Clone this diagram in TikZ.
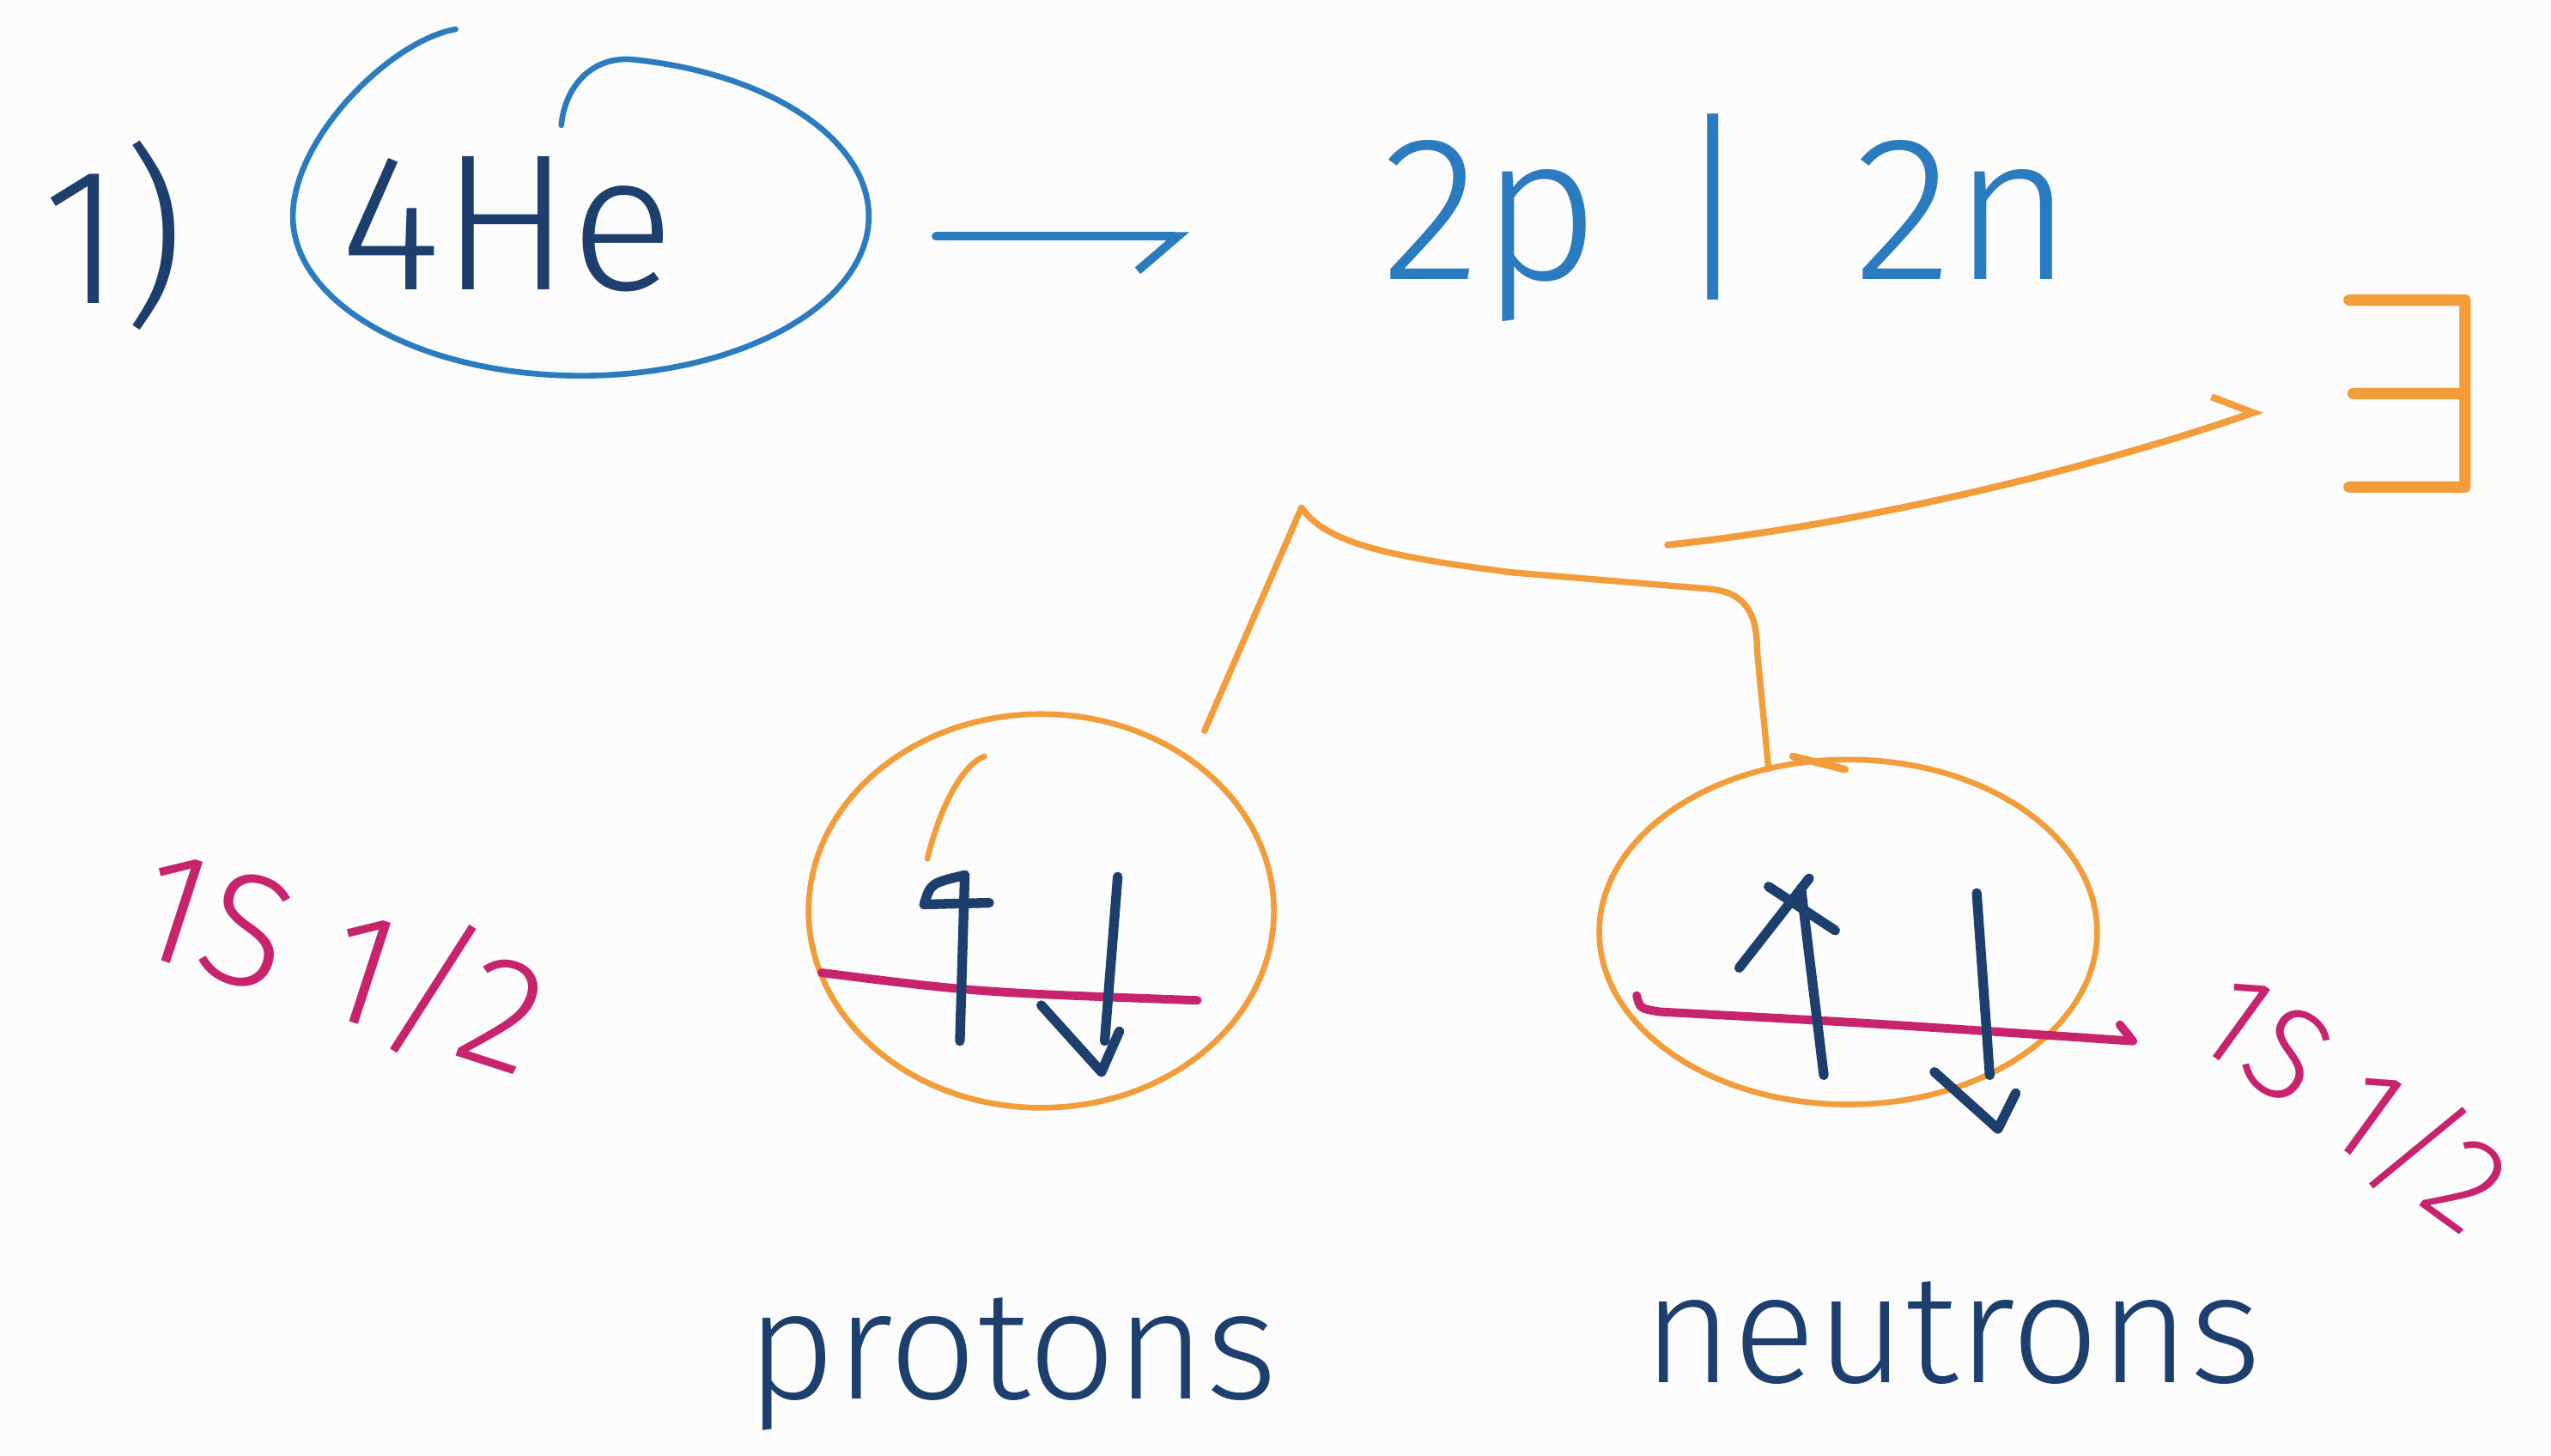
\RequirePackage{fix-cm}
\documentclass[tikz,border=0pt]{standalone}
\usepackage{fontspec}
\setmainfont{Fira Sans}[UprightFont={* Light}]
\usetikzlibrary{shapes.geometric,arrows.meta}
\definecolor{inknavy}{HTML}{1D3F6E}
\definecolor{inkblue}{HTML}{2B7BC0}
\definecolor{inkorange}{HTML}{F39C3A}
\definecolor{inkpink}{HTML}{C8246E}
\definecolor{paper}{HTML}{FCFCFC}

\begin{document}
\begin{tikzpicture}[line cap=round,line join=round,
    navytext/.style={text=inknavy,inner sep=2pt},
    shell/.style={draw=inkorange,line width=1pt,ellipse,inner sep=0pt,outer sep=0pt},
    spinarrow/.style={draw=inknavy,line width=1.7pt},
    pinkline/.style={draw=inkpink,line width=1.5pt},
    termlabel/.style={text=inkpink,font={\fontsize{28}{32}\selectfont}}]
  \useasboundingbox[fill=paper] (0,0) rectangle (15.68,8.95);

  % helium nucleus
  \node[navytext,font={\fontsize{34}{40}\selectfont}] (num) at (0.70,7.50) {1)};
  \node[navytext,font={\fontsize{34}{40}\selectfont}] (helium) at (3.12,7.57) {4He};
  \node[ellipse,minimum width=3.54cm,minimum height=1.96cm,inner sep=0pt] (he) at (3.57,7.62) {};
  \draw[inkblue,line width=1pt] (2.80,8.77) .. controls (2.40,8.70) and (1.80,8.10) .. (1.80,7.62)
    arc[start angle=180,end angle=440,x radius=1.77,y radius=0.98]
    .. controls (3.62,8.60) and (3.47,8.40) .. (3.45,8.18);
  \node[text=inkblue,font={\fontsize{36}{42}\selectfont},anchor=base] (nucl) at (10.62,7.23)
    {2p\hspace{0.44cm}|\hspace{0.61cm}2n};
  \draw[inkblue,line width=1.5pt,-{Straight Barb[harpoon,swap,length=7pt,width=12pt]},
    shorten <=0.42cm,shorten >=1.06cm] (he.-4) -- (he.-4 -| nucl.west);

  % shells
  \node[shell,minimum width=2.86cm,minimum height=2.42cm] (pc) at (6.40,3.35) {};
  \node[shell,minimum width=3.06cm,minimum height=2.12cm] (nc) at (11.36,3.22) {};
  \draw[inkorange,line width=1pt] (5.70,3.67) .. controls (5.78,4.00) and (5.92,4.25) .. (6.05,4.30);
  \draw[inkorange,line width=1.3pt] (11.02,4.30) -- (11.34,4.22);

  % pairing bracket and total
  \node[text=inkorange,font={\fontsize{50}{56}\selectfont}] (total) at (14.80,6.53) {$\exists$};
  \draw[inkorange,line width=1.1pt,shorten <=0.2cm] (pc.45) -- (8.00,5.83)
    .. controls (8.15,5.60) and (8.60,5.52) .. (9.30,5.43) -- (10.50,5.33)
    .. controls (10.75,5.31) and (10.80,5.15) .. (10.80,4.95) -- (nc.116);
  \coordinate (brk) at (10.25,5.60);
  \draw[inkorange,line width=1.2pt,-{Straight Barb[harpoon,length=6pt,width=10pt]},shorten >=0.3cm]
    (brk) .. controls (11.40,5.72) and (12.80,6.05) .. (total.west);

  % levels
  \draw[pinkline] (5.05,2.97) .. controls (6.00,2.85) .. (7.36,2.80);
  \draw[pinkline] (10.06,2.83) .. controls (10.08,2.75) .. (10.20,2.73)
    .. controls (11.50,2.66) .. (13.11,2.55) -- (13.03,2.65);

  % spins
  \draw[spinarrow] (5.90,2.55) -- (5.93,3.57);
  \draw[spinarrow] (6.08,3.40) -- (5.68,3.39) .. controls (5.72,3.52) .. (5.93,3.57);
  \draw[spinarrow] (6.87,3.56) -- (6.79,2.55);
  \draw[spinarrow] (6.40,2.77) -- (6.77,2.36) -- (6.88,2.61);
  \draw[spinarrow] (11.21,2.34) -- (11.07,3.49);
  \draw[spinarrow] (10.87,3.50) -- (11.28,3.23);
  \draw[spinarrow] (10.69,3.00) -- (11.12,3.55);
  \draw[spinarrow] (12.15,3.46) -- (12.23,2.34);
  \draw[spinarrow] (11.89,2.36) -- (12.28,2.01) -- (12.39,2.23);

  % labels
  \node[termlabel,rotate=-18] (lterm) at (2.10,3.05) {1S 1/2};
  \node[termlabel,rotate=-36,font={\fontsize{23}{27}\selectfont}] (rterm) at (14.47,2.18) {1S 1/2};
  \node[navytext,font={\fontsize{27}{32}\selectfont},anchor=base] (prot) at (6.22,0.35) {protons};
  \node[navytext,font={\fontsize{27}{32}\selectfont},anchor=base] (neut) at (12.00,0.45) {neutrons};
\end{tikzpicture}
\end{document}
